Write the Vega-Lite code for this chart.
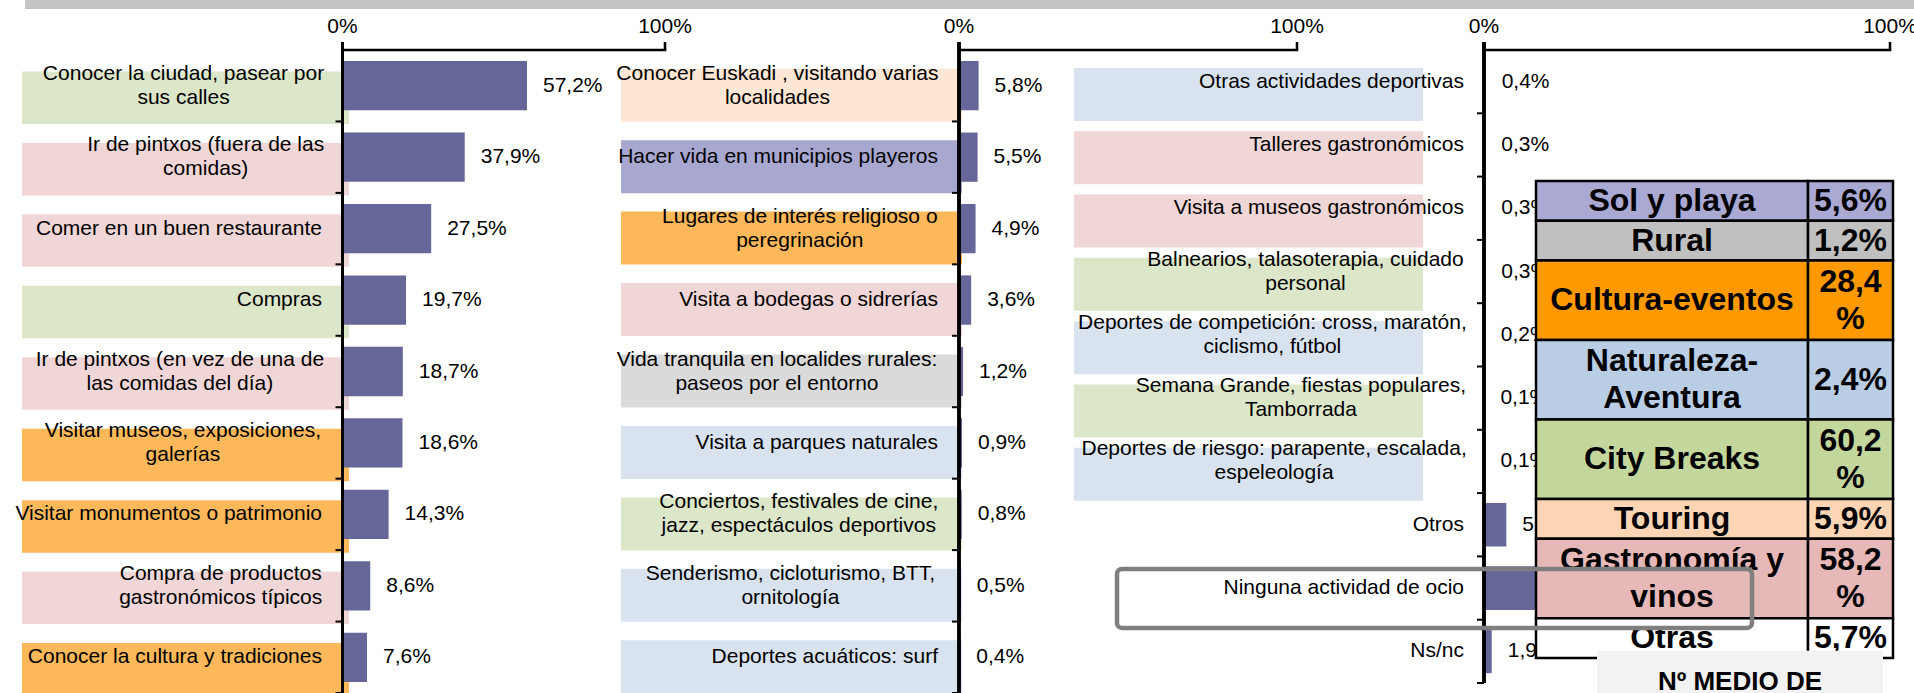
{
  "$schema": "https://vega.github.io/schema/vega-lite/v6.json",
  "padding": 0,
  "bounds": "flush",
  "spacing": 50,
  "config": {
    "view": {"stroke": null},
    "locale": {"number": {"decimal": ",", "thousands": ".", "grouping": [3], "currency": ["", " €"]}},
    "text": {"font": "Liberation Sans"},
    "axis": {"labelFont": "Liberation Sans"}
  },
  "vconcat": [
    {
      "bounds": "flush",
      "spacing": 0,
      "hconcat": [
        {"width": 25, "height": 9, "data": {"values": [{}]}, "mark": {"type": "point", "opacity": 0}, "encoding": {}},
        {"width": 1889, "height": 9, "view": {"fill": "#c4c4c4", "stroke": null}, "data": {"values": [{}]}, "mark": {"type": "point", "opacity": 0}, "encoding": {}}
      ]
    },
    {
      "bounds": "flush",
      "spacing": 0,
      "hconcat": [
        {
          "width": 665,
          "height": 643,
          "data": {"values": [
            {"n": "Conocer la ciudad, pasear por\nsus calles", "v": 0.572, "g": "City Breaks"},
            {"n": "Ir de pintxos (fuera de las\ncomidas)", "v": 0.379, "g": "Gastronomía y vinos"},
            {"n": "Comer en un buen restaurante", "v": 0.275, "g": "Gastronomía y vinos"},
            {"n": "Compras", "v": 0.197, "g": "City Breaks"},
            {"n": "Ir de pintxos (en vez de una de\nlas comidas del día)", "v": 0.187, "g": "Gastronomía y vinos"},
            {"n": "Visitar museos, exposiciones,\ngalerías", "v": 0.186, "g": "Cultura-eventos"},
            {"n": "Visitar monumentos o patrimonio", "v": 0.143, "g": "Cultura-eventos"},
            {"n": "Compra de productos\ngastronómicos típicos", "v": 0.086, "g": "Gastronomía y vinos"},
            {"n": "Conocer la cultura y tradiciones", "v": 0.076, "g": "Cultura-eventos"}
          ]},
          "layer": [
            {
              "transform": [{"filter": "isValid(datum.g)"}],
              "mark": {"type": "bar", "height": {"band": 0.735}, "yOffset": 12},
              "encoding": {
                "y": {"field": "n", "type": "nominal", "axis": null, "scale": {"type": "band", "paddingInner": 0, "paddingOuter": 0, "domain": ["Conocer la ciudad, pasear por\nsus calles", "Ir de pintxos (fuera de las\ncomidas)", "Comer en un buen restaurante", "Compras", "Ir de pintxos (en vez de una de\nlas comidas del día)", "Visitar museos, exposiciones,\ngalerías", "Visitar monumentos o patrimonio", "Compra de productos\ngastronómicos típicos", "Conocer la cultura y tradiciones"]}},
                "x": {"datum": -0.9938, "scale": {"domain": [-1.062, 1], "nice": false, "zero": false}, "axis": null},
                "x2": {"datum": 0.0202},
                "color": {"field": "g", "type": "nominal", "legend": null, "scale": {"domain": ["Sol y playa", "Rural", "Cultura-eventos", "Naturaleza-Aventura", "City Breaks", "Touring", "Gastronomía y vinos"], "range": ["#a7a7d0", "#dadada", "#fdb85a", "#d9e3f0", "#dce6c9", "#fde6d4", "#f0d6d6"]}}
              }
            },
            {
              "mark": {"type": "bar", "color": "#666699", "height": {"band": 0.69}},
              "encoding": {
                "y": {"field": "n", "type": "nominal", "axis": null},
                "x": {"field": "v", "type": "quantitative", "axis": null}
              }
            },
            {
              "mark": {"type": "text", "align": "left", "dx": 16, "fontSize": 21, "color": "#000000"},
              "encoding": {
                "y": {"field": "n", "type": "nominal", "axis": null},
                "x": {"field": "v", "type": "quantitative", "axis": null},
                "text": {"field": "v", "type": "quantitative", "format": ".1%"}
              }
            },
            {
              "transform": [{"filter": "indexof(datum.n, '\\n') < 0"}],
              "mark": {"type": "text", "align": "right", "fontSize": 21, "color": "#000000"},
              "encoding": {
                "y": {"field": "n", "type": "nominal", "axis": null},
                "x": {"datum": -0.0636, "axis": null},
                "text": {"field": "n"}
              }
            },
            {
              "transform": [
                {"filter": "indexof(datum.n, '\\n') >= 0"},
                {"calculate": "split(datum.n, '\\n')[0]", "as": "l1"},
                {"calculate": "split(datum.n, '\\n')[1]", "as": "l2"},
                {"calculate": "0.556*length(datum.l1) - 0.29*length(replace(datum.l1, regexp('[^ilIjtfrí ,.:;()]', 'g'), '')) - 0.056*length(replace(datum.l1, regexp('[^cksvxyzJ]', 'g'), '')) + 0.28*length(replace(datum.l1, regexp('[^mwMW]', 'g'), '')) + 0.13*length(replace(datum.l1, regexp('[^A-HK-LN-VX-Z]', 'g'), ''))", "as": "w1"},
                {"calculate": "0.556*length(datum.l2) - 0.29*length(replace(datum.l2, regexp('[^ilIjtfrí ,.:;()]', 'g'), '')) - 0.056*length(replace(datum.l2, regexp('[^cksvxyzJ]', 'g'), '')) + 0.28*length(replace(datum.l2, regexp('[^mwMW]', 'g'), '')) + 0.13*length(replace(datum.l2, regexp('[^A-HK-LN-VX-Z]', 'g'), ''))", "as": "w2"},
                {"calculate": "-0.0636 - max(datum.w1, datum.w2) * 21 / 645", "as": "xc"}
              ],
              "mark": {"type": "text", "align": "center", "fontSize": 21, "lineHeight": 24, "lineBreak": "\n", "dy": -12, "color": "#000000"},
              "encoding": {
                "y": {"field": "n", "type": "nominal", "axis": null},
                "x": {"field": "xc", "type": "quantitative", "axis": null},
                "text": {"field": "n"}
              }
            },
            {"mark": {"type": "rule", "strokeWidth": 2.5, "color": "#000000", "yOffset": -8}, "encoding": {"x": {"datum": 0, "axis": null}}},
            {
              "transform": [{"filter": "indexof(datum.n, 'Conocer la ciudad') == 0"}],
              "mark": {"type": "bar", "color": "#000000", "height": 2.5, "yOffset": -35.72},
              "encoding": {"x": {"datum": 0, "axis": null}, "x2": {"datum": 1.004}, "y": {"field": "n", "type": "nominal", "axis": null}}
            },
            {
              "transform": [{"filter": "indexof(datum.n, 'Conocer la ciudad') == 0"}],
              "mark": {"type": "bar", "color": "#000000", "height": 8, "yOffset": -39.72},
              "encoding": {"x": {"datum": 0.996, "axis": null}, "x2": {"datum": 1.004}, "y": {"field": "n", "type": "nominal", "axis": null}}
            },
            {
              "transform": [{"filter": "indexof(datum.n, 'Conocer la ciudad') == 0"}],
              "mark": {"type": "text", "baseline": "alphabetic", "dy": -17, "fontSize": 21, "color": "#000000"},
              "encoding": {"x": {"datum": 0, "axis": null}, "y": {"datum": "Conocer la ciudad, pasear por\nsus calles", "type": "nominal", "bandPosition": 0, "axis": null}, "text": {"value": "0%"}}
            },
            {
              "transform": [{"filter": "indexof(datum.n, 'Conocer la ciudad') == 0"}],
              "mark": {"type": "text", "baseline": "alphabetic", "dy": -17, "fontSize": 21, "color": "#000000"},
              "encoding": {"x": {"datum": 1, "axis": null}, "y": {"datum": "Conocer la ciudad, pasear por\nsus calles", "type": "nominal", "bandPosition": 0, "axis": null}, "text": {"value": "100%"}}
            },
            {
              "mark": {"type": "rule", "strokeWidth": 2, "color": "#000000"},
              "encoding": {"x": {"datum": -0.0217, "axis": null}, "x2": {"datum": 0}, "y": {"field": "n", "type": "nominal", "bandPosition": 1, "axis": null}}
            }
          ]
        },
        {
          "width": 632,
          "height": 643,
          "data": {"values": [
            {"n": "Conocer Euskadi , visitando varias\nlocalidades", "v": 0.058, "g": "Touring"},
            {"n": "Hacer vida en municipios playeros", "v": 0.055, "g": "Sol y playa"},
            {"n": "Lugares de interés religioso o\nperegrinación", "v": 0.049, "g": "Cultura-eventos"},
            {"n": "Visita a bodegas o sidrerías", "v": 0.036, "g": "Gastronomía y vinos"},
            {"n": "Vida tranquila en localides rurales:\npaseos por el entorno", "v": 0.012, "g": "Rural"},
            {"n": "Visita a parques naturales", "v": 0.009, "g": "Naturaleza-Aventura"},
            {"n": "Conciertos, festivales de cine,\njazz, espectáculos deportivos", "v": 0.008, "g": "City Breaks"},
            {"n": "Senderismo, cicloturismo, BTT,\nornitología", "v": 0.005, "g": "Naturaleza-Aventura"},
            {"n": "Deportes acuáticos: surf", "v": 0.004, "g": "Naturaleza-Aventura"}
          ]},
          "layer": [
            {
              "transform": [{"filter": "isValid(datum.g)"}],
              "mark": {"type": "bar", "height": {"band": 0.742}, "yOffset": 9.5},
              "encoding": {
                "y": {"field": "n", "type": "nominal", "axis": null, "scale": {"type": "band", "paddingInner": 0, "paddingOuter": 0, "domain": ["Conocer Euskadi , visitando varias\nlocalidades", "Hacer vida en municipios playeros", "Lugares de interés religioso o\nperegrinación", "Visita a bodegas o sidrerías", "Vida tranquila en localides rurales:\npaseos por el entorno", "Visita a parques naturales", "Conciertos, festivales de cine,\njazz, espectáculos deportivos", "Senderismo, cicloturismo, BTT,\nornitología", "Deportes acuáticos: surf"]}},
                "x": {"datum": -1.0, "scale": {"domain": [-0.8698, 1], "nice": false, "zero": false}, "axis": null},
                "x2": {"datum": 0.0089},
                "color": {"field": "g", "type": "nominal", "legend": null, "scale": {"domain": ["Sol y playa", "Rural", "Cultura-eventos", "Naturaleza-Aventura", "City Breaks", "Touring", "Gastronomía y vinos"], "range": ["#a7a7d0", "#dadada", "#fdb85a", "#d9e3f0", "#dce6c9", "#fde6d4", "#f0d6d6"]}}
              }
            },
            {
              "mark": {"type": "bar", "color": "#666699", "height": {"band": 0.69}},
              "encoding": {
                "y": {"field": "n", "type": "nominal", "axis": null},
                "x": {"field": "v", "type": "quantitative", "axis": null}
              }
            },
            {
              "mark": {"type": "text", "align": "left", "dx": 16, "fontSize": 21, "color": "#000000"},
              "encoding": {
                "y": {"field": "n", "type": "nominal", "axis": null},
                "x": {"field": "v", "type": "quantitative", "axis": null},
                "text": {"field": "v", "type": "quantitative", "format": ".1%"}
              }
            },
            {
              "transform": [{"filter": "indexof(datum.n, '\\n') < 0"}],
              "mark": {"type": "text", "align": "right", "fontSize": 21, "color": "#000000"},
              "encoding": {
                "y": {"field": "n", "type": "nominal", "axis": null},
                "x": {"datum": -0.0621, "axis": null},
                "text": {"field": "n"}
              }
            },
            {
              "transform": [
                {"filter": "indexof(datum.n, '\\n') >= 0"},
                {"calculate": "split(datum.n, '\\n')[0]", "as": "l1"},
                {"calculate": "split(datum.n, '\\n')[1]", "as": "l2"},
                {"calculate": "0.556*length(datum.l1) - 0.29*length(replace(datum.l1, regexp('[^ilIjtfrí ,.:;()]', 'g'), '')) - 0.056*length(replace(datum.l1, regexp('[^cksvxyzJ]', 'g'), '')) + 0.28*length(replace(datum.l1, regexp('[^mwMW]', 'g'), '')) + 0.13*length(replace(datum.l1, regexp('[^A-HK-LN-VX-Z]', 'g'), ''))", "as": "w1"},
                {"calculate": "0.556*length(datum.l2) - 0.29*length(replace(datum.l2, regexp('[^ilIjtfrí ,.:;()]', 'g'), '')) - 0.056*length(replace(datum.l2, regexp('[^cksvxyzJ]', 'g'), '')) + 0.28*length(replace(datum.l2, regexp('[^mwMW]', 'g'), '')) + 0.13*length(replace(datum.l2, regexp('[^A-HK-LN-VX-Z]', 'g'), ''))", "as": "w2"},
                {"calculate": "-0.0621 - max(datum.w1, datum.w2) * 21 / 676", "as": "xc"}
              ],
              "mark": {"type": "text", "align": "center", "fontSize": 21, "lineHeight": 24, "lineBreak": "\n", "dy": -12, "color": "#000000"},
              "encoding": {
                "y": {"field": "n", "type": "nominal", "axis": null},
                "x": {"field": "xc", "type": "quantitative", "axis": null},
                "text": {"field": "n"}
              }
            },
            {"mark": {"type": "rule", "strokeWidth": 2.5, "color": "#000000", "yOffset": -8}, "encoding": {"x": {"datum": 0, "axis": null}}},
            {
              "transform": [{"filter": "indexof(datum.n, 'Conocer Euskadi') == 0"}],
              "mark": {"type": "bar", "color": "#000000", "height": 2.5, "yOffset": -35.72},
              "encoding": {"x": {"datum": 0, "axis": null}, "x2": {"datum": 1.0037}, "y": {"field": "n", "type": "nominal", "axis": null}}
            },
            {
              "transform": [{"filter": "indexof(datum.n, 'Conocer Euskadi') == 0"}],
              "mark": {"type": "bar", "color": "#000000", "height": 8, "yOffset": -39.72},
              "encoding": {"x": {"datum": 0.9963, "axis": null}, "x2": {"datum": 1.0037}, "y": {"field": "n", "type": "nominal", "axis": null}}
            },
            {
              "transform": [{"filter": "indexof(datum.n, 'Conocer Euskadi') == 0"}],
              "mark": {"type": "text", "baseline": "alphabetic", "dy": -17, "fontSize": 21, "color": "#000000"},
              "encoding": {"x": {"datum": 0, "axis": null}, "y": {"datum": "Conocer Euskadi , visitando varias\nlocalidades", "type": "nominal", "bandPosition": 0, "axis": null}, "text": {"value": "0%"}}
            },
            {
              "transform": [{"filter": "indexof(datum.n, 'Conocer Euskadi') == 0"}],
              "mark": {"type": "text", "baseline": "alphabetic", "dy": -17, "fontSize": 21, "color": "#000000"},
              "encoding": {"x": {"datum": 1, "axis": null}, "y": {"datum": "Conocer Euskadi , visitando varias\nlocalidades", "type": "nominal", "bandPosition": 0, "axis": null}, "text": {"value": "100%"}}
            },
            {
              "mark": {"type": "rule", "strokeWidth": 2, "color": "#000000"},
              "encoding": {"x": {"datum": -0.0207, "axis": null}, "x2": {"datum": 0}, "y": {"field": "n", "type": "nominal", "bandPosition": 1, "axis": null}}
            }
          ]
        },
        {
          "width": 593,
          "height": 633,
          "resolve": {"scale": {"x": "independent", "y": "independent"}},
          "layer": [
            {
              "data": {"values": [
                {"n": "Otras actividades deportivas", "v": 0.004, "g": "Naturaleza-Aventura"},
                {"n": "Talleres gastronómicos", "v": 0.003, "g": "Gastronomía y vinos"},
                {"n": "Visita a museos gastronómicos", "v": 0.003, "g": "Gastronomía y vinos"},
                {"n": "Balnearios, talasoterapia, cuidado\npersonal", "v": 0.003, "g": "City Breaks"},
                {"n": "Deportes de competición: cross, maratón,\nciclismo, fútbol", "v": 0.002, "g": "Naturaleza-Aventura"},
                {"n": "Semana Grande, fiestas populares,\nTamborrada", "v": 0.001, "g": "City Breaks"},
                {"n": "Deportes de riesgo: parapente, escalada,\nespeleología", "v": 0.001, "g": "Naturaleza-Aventura"},
                {"n": "Otros", "v": 0.055},
                {"n": "Ninguna actividad de ocio", "v": 0.16},
                {"n": "Ns/nc", "v": 0.019}
              ]},
              "layer": [
                {
                  "transform": [{"filter": "isValid(datum.g)"}],
                  "mark": {"type": "bar", "height": {"band": 0.837}, "yOffset": 12.8},
                  "encoding": {
                    "y": {"field": "n", "type": "nominal", "axis": null, "scale": {"type": "band", "paddingInner": 0, "paddingOuter": 0, "domain": ["Otras actividades deportivas", "Talleres gastronómicos", "Visita a museos gastronómicos", "Balnearios, talasoterapia, cuidado\npersonal", "Deportes de competición: cross, maratón,\nciclismo, fútbol", "Semana Grande, fiestas populares,\nTamborrada", "Deportes de riesgo: parapente, escalada,\nespeleología", "Otros", "Ninguna actividad de ocio", "Ns/nc"]}},
                    "x": {"datum": -1.0099, "scale": {"domain": [-0.4606, 1], "nice": false, "zero": false}, "axis": null},
                    "x2": {"datum": -0.1502},
                    "color": {"field": "g", "type": "nominal", "legend": null, "scale": {"domain": ["Sol y playa", "Rural", "Cultura-eventos", "Naturaleza-Aventura", "City Breaks", "Touring", "Gastronomía y vinos"], "range": ["#a7a7d0", "#dadada", "#fdb85a", "#d9e3f0", "#dce6c9", "#fde6d4", "#f0d6d6"]}}
                  }
                },
                {
                  "mark": {"type": "bar", "color": "#666699", "height": {"band": 0.69}},
                  "encoding": {
                    "y": {"field": "n", "type": "nominal", "axis": null},
                    "x": {"field": "v", "type": "quantitative", "axis": null}
                  }
                },
                {
                  "mark": {"type": "text", "align": "left", "dx": 16, "fontSize": 21, "color": "#000000"},
                  "encoding": {
                    "y": {"field": "n", "type": "nominal", "axis": null},
                    "x": {"field": "v", "type": "quantitative", "axis": null},
                    "text": {"field": "v", "type": "quantitative", "format": ".1%"}
                  }
                },
                {
                  "transform": [{"filter": "indexof(datum.n, '\\n') < 0"}],
                  "mark": {"type": "text", "align": "right", "fontSize": 21, "color": "#000000"},
                  "encoding": {
                    "y": {"field": "n", "type": "nominal", "axis": null},
                    "x": {"datum": -0.0493, "axis": null},
                    "text": {"field": "n"}
                  }
                },
                {
                  "transform": [
                    {"filter": "indexof(datum.n, '\\n') >= 0"},
                    {"calculate": "split(datum.n, '\\n')[0]", "as": "l1"},
                    {"calculate": "split(datum.n, '\\n')[1]", "as": "l2"},
                    {"calculate": "0.556*length(datum.l1) - 0.29*length(replace(datum.l1, regexp('[^ilIjtfrí ,.:;()]', 'g'), '')) - 0.056*length(replace(datum.l1, regexp('[^cksvxyzJ]', 'g'), '')) + 0.28*length(replace(datum.l1, regexp('[^mwMW]', 'g'), '')) + 0.13*length(replace(datum.l1, regexp('[^A-HK-LN-VX-Z]', 'g'), ''))", "as": "w1"},
                    {"calculate": "0.556*length(datum.l2) - 0.29*length(replace(datum.l2, regexp('[^ilIjtfrí ,.:;()]', 'g'), '')) - 0.056*length(replace(datum.l2, regexp('[^cksvxyzJ]', 'g'), '')) + 0.28*length(replace(datum.l2, regexp('[^mwMW]', 'g'), '')) + 0.13*length(replace(datum.l2, regexp('[^A-HK-LN-VX-Z]', 'g'), ''))", "as": "w2"},
                    {"calculate": "-0.0493 - max(datum.w1, datum.w2) * 21 / 812", "as": "xc"}
                  ],
                  "mark": {"type": "text", "align": "center", "fontSize": 21, "lineHeight": 24, "lineBreak": "\n", "dy": -12, "color": "#000000"},
                  "encoding": {
                    "y": {"field": "n", "type": "nominal", "axis": null},
                    "x": {"field": "xc", "type": "quantitative", "axis": null},
                    "text": {"field": "n"}
                  }
                },
                {"mark": {"type": "rule", "strokeWidth": 2.5, "color": "#000000", "yOffset": -8}, "encoding": {"x": {"datum": 0, "axis": null}}},
                {
                  "transform": [{"filter": "indexof(datum.n, 'Otras actividades') == 0"}],
                  "mark": {"type": "bar", "color": "#000000", "height": 2.5, "yOffset": -31.65},
                  "encoding": {"x": {"datum": 0, "axis": null}, "x2": {"datum": 1.0031}, "y": {"field": "n", "type": "nominal", "axis": null}}
                },
                {
                  "transform": [{"filter": "indexof(datum.n, 'Otras actividades') == 0"}],
                  "mark": {"type": "bar", "color": "#000000", "height": 8, "yOffset": -35.65},
                  "encoding": {"x": {"datum": 0.9969, "axis": null}, "x2": {"datum": 1.0031}, "y": {"field": "n", "type": "nominal", "axis": null}}
                },
                {
                  "transform": [{"filter": "indexof(datum.n, 'Otras actividades') == 0"}],
                  "mark": {"type": "text", "baseline": "alphabetic", "dy": -17, "fontSize": 21, "color": "#000000"},
                  "encoding": {"x": {"datum": 0, "axis": null}, "y": {"datum": "Otras actividades deportivas", "type": "nominal", "bandPosition": 0, "axis": null}, "text": {"value": "0%"}}
                },
                {
                  "transform": [{"filter": "indexof(datum.n, 'Otras actividades') == 0"}],
                  "mark": {"type": "text", "baseline": "alphabetic", "dy": -17, "fontSize": 21, "color": "#000000"},
                  "encoding": {"x": {"datum": 1, "axis": null}, "y": {"datum": "Otras actividades deportivas", "type": "nominal", "bandPosition": 0, "axis": null}, "text": {"value": "100%"}}
                },
                {
                  "mark": {"type": "rule", "strokeWidth": 2, "color": "#000000"},
                  "encoding": {"x": {"datum": -0.0172, "axis": null}, "x2": {"datum": 0}, "y": {"field": "n", "type": "nominal", "bandPosition": 1, "axis": null}}
                }
              ]
            },
            {
              "layer": [
                {
                  "data": {"values": [
                    {"c": "Sol y playa", "p": "5,6%"},
                    {"c": "Rural", "p": "1,2%"},
                    {"c": "Cultura-eventos", "p": "28,4\n%"},
                    {"c": "Naturaleza-\nAventura", "p": "2,4%"},
                    {"c": "City Breaks", "p": "60,2\n%"},
                    {"c": "Touring", "p": "5,9%"},
                    {"c": "Gastronomía y\nvinos", "p": "58,2\n%"},
                    {"c": "Otras", "p": "5,7%"}
                  ]},
                  "transform": [
                    {"calculate": "max(length(split(datum.c, '\\n')), length(split(datum.p, '\\n')))", "as": "s"},
                    {"window": [{"op": "sum", "field": "s", "as": "r1"}], "frame": [null, 0]},
                    {"calculate": "datum.r1 - datum.s", "as": "r0"},
                    {"calculate": "datum.r1 - datum.s / 2", "as": "m"}
                  ],
                  "layer": [
                    {
                      "mark": {"type": "rect", "stroke": "#000000", "strokeWidth": 2.5},
                      "encoding": {
                        "x": {"datum": 0, "scale": {"domain": [-0.6695, 0.9916], "nice": false, "zero": false}, "axis": null},
                        "x2": {"datum": 0.762},
                        "y": {"field": "r0", "type": "quantitative", "axis": null, "scale": {"domain": [-3.2956, 12.629], "nice": false, "zero": false, "reverse": true}},
                        "y2": {"field": "r1"},
                        "fill": {"field": "c", "type": "nominal", "legend": null, "scale": {"domain": ["Sol y playa", "Rural", "Cultura-eventos", "Naturaleza-\nAventura", "City Breaks", "Touring", "Gastronomía y\nvinos", "Otras"], "range": ["#a9a9d4", "#c0c0c0", "#ff9900", "#b9cde5", "#c3d69b", "#fcd5b5", "#e6b9b8", "#ffffff"]}}
                      }
                    },
                    {
                      "mark": {"type": "rect", "stroke": "#000000", "strokeWidth": 2.5},
                      "encoding": {
                        "x": {"datum": 0.762, "axis": null},
                        "x2": {"datum": 1},
                        "y": {"field": "r0", "type": "quantitative", "axis": null},
                        "y2": {"field": "r1"},
                        "fill": {"field": "c", "type": "nominal", "legend": null}
                      }
                    },
                    {
                      "transform": [{"filter": "indexof(datum.c, '\\n') < 0"}],
                      "mark": {"type": "text", "fontSize": 32, "fontWeight": "bold", "color": "#000000"},
                      "encoding": {
                        "x": {"datum": 0.381, "axis": null},
                        "y": {"field": "m", "type": "quantitative", "axis": null},
                        "text": {"field": "c"}
                      }
                    },
                    {
                      "transform": [{"filter": "indexof(datum.c, '\\n') >= 0"}],
                      "mark": {"type": "text", "fontSize": 32, "fontWeight": "bold", "lineHeight": 37, "lineBreak": "\n", "dy": -18.5, "color": "#000000"},
                      "encoding": {
                        "x": {"datum": 0.381, "axis": null},
                        "y": {"field": "m", "type": "quantitative", "axis": null},
                        "text": {"field": "c"}
                      }
                    },
                    {
                      "transform": [{"filter": "indexof(datum.p, '\\n') < 0"}],
                      "mark": {"type": "text", "fontSize": 32, "fontWeight": "bold", "color": "#000000"},
                      "encoding": {
                        "x": {"datum": 0.881, "axis": null},
                        "y": {"field": "m", "type": "quantitative", "axis": null},
                        "text": {"field": "p"}
                      }
                    },
                    {
                      "transform": [{"filter": "indexof(datum.p, '\\n') >= 0"}],
                      "mark": {"type": "text", "fontSize": 32, "fontWeight": "bold", "lineHeight": 37, "lineBreak": "\n", "dy": -18.5, "color": "#000000"},
                      "encoding": {
                        "x": {"datum": 0.881, "axis": null},
                        "y": {"field": "m", "type": "quantitative", "axis": null},
                        "text": {"field": "p"}
                      }
                    }
                  ]
                },
                {
                  "data": {"values": [{"t": "Nº MEDIO DE"}]},
                  "layer": [
                    {
                      "mark": {"type": "rect", "color": "#f2f2f2"},
                      "encoding": {"x": {"datum": 0.1709, "axis": null}, "x2": {"datum": 0.972}, "y": {"datum": 11.82, "axis": null}, "y2": {"datum": 12.88}}
                    },
                    {
                      "mark": {"type": "text", "fontSize": 26, "fontWeight": "bold", "baseline": "alphabetic", "color": "#000000"},
                      "encoding": {"x": {"datum": 0.5714, "axis": null}, "y": {"datum": 12.8, "axis": null}, "text": {"field": "t"}}
                    }
                  ]
                },
                {
                  "data": {"values": [{"t": "Ninguna actividad de ocio"}]},
                  "mark": {"type": "rect", "fillOpacity": 0, "stroke": "#7f7f7f", "strokeWidth": 4.5, "cornerRadius": 5},
                  "encoding": {"x": {"datum": -1.1737, "axis": null}, "x2": {"datum": 0.605}, "y": {"datum": 9.761, "axis": null}, "y2": {"datum": 11.245}}
                }
              ]
            }
          ]
        }
      ]
    }
  ]
}
